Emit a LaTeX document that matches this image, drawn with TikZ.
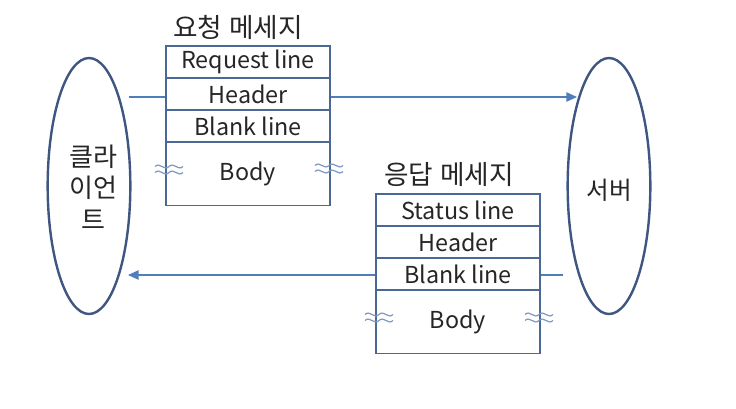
\documentclass[tikz,border=0pt]{standalone}
\usepackage{fontspec}
\setmainfont{Noto Sans CJK KR}
\usetikzlibrary{arrows.meta,shapes.geometric,calc}
\definecolor{arrowblue}{HTML}{4F7EBB}
\definecolor{ellblue}{HTML}{3E5680}
\definecolor{boxblue}{HTML}{4A6894}
\definecolor{wavec}{HTML}{7D98C0}
\definecolor{txt}{HTML}{262626}
\tikzset{
  x=0.75pt, y=-0.75pt,
  ell/.style={ellipse, draw=ellblue, line width=1.8pt, fill=white, minimum width=62pt, minimum height=192pt, inner sep=0pt},
  rowbox/.style={draw=boxblue, line width=1.1pt, fill=white, text=txt, minimum width=123pt, minimum height=24pt, inner sep=0pt, outer sep=0pt, font=\fontsize{17.5}{20}\selectfont},
  bodybox/.style={rowbox, minimum height=47.5pt},
  title/.style={font=\fontsize{20}{23}\selectfont, text=txt, inner sep=0pt},
  conn/.style={draw=arrowblue, line width=1.1pt},
  arr/.style={conn, -{Triangle[length=8pt,width=7pt]}},
  wave/.style={draw=wavec, line width=0.9pt}
}
\newcommand{\wavemark}[1]{%
  \draw[wave] ($(#1)+(-14,-2.5)$) .. controls +(5,-5) and +(-5,5) .. ($(#1)+(0,-2.5)$) .. controls +(5,-5) and +(-5,5) .. ($(#1)+(14,-2.5)$);
  \draw[wave] ($(#1)+(-14,3.5)$) .. controls +(5,-5) and +(-5,5) .. ($(#1)+(0,3.5)$) .. controls +(5,-5) and +(-5,5) .. ($(#1)+(14,3.5)$);
}
\begin{document}
\begin{tikzpicture}
\useasboundingbox[fill=white] (0,0) rectangle (736,408);
% ellipses
\node[ell] (client) at (89,186) {};
\node[ell] (server) at (609,186) {};
\node[align=center, text=txt, font=\fontsize{19.5}{23.5}\selectfont] (clientlbl) at (93,187) {클라\\이언\\트};
\node[text=txt, font=\fontsize{18.5}{21}\selectfont] (serverlbl) at (609,190) {서버};
% connector end points on the ellipses
\coordinate (reqstart) at (129,97);
\coordinate (reqend) at (577,97);
\coordinate (resstart) at (563,275);
\coordinate (resend) at (128,275);
\draw[arr] (reqstart) -- (reqend);
\draw[arr] (resstart) -- (resend);
% request message
\node[title] (reqtitle) at (238,27) {요청\hspace{5pt}메세지};
\node[rowbox, anchor=north west] (r1) at (166,46) {Request line};
\node[rowbox, anchor=north] (r2) at (r1.south) {Header};
\node[rowbox, anchor=north] (r3) at (r2.south) {Blank line};
\node[bodybox, anchor=north] (r4) at (r3.south) {Body};
% response message
\node[title] (restitle) at (449,175) {응답\hspace{5pt}메세지};
\node[rowbox, anchor=north west] (s1) at (376,194) {Status line};
\node[rowbox, anchor=north] (s2) at (s1.south) {Header};
\node[rowbox, anchor=north] (s3) at (s2.south) {Blank line};
\node[bodybox, anchor=north] (s4) at (s3.south) {Body};
% wave marks
\coordinate (w1) at (169,169);
\coordinate (w2) at (329,168);
\coordinate (w3) at (379,317);
\coordinate (w4) at (539,317);
\wavemark{w1}
\wavemark{w2}
\wavemark{w3}
\wavemark{w4}
\end{tikzpicture}
\end{document}
